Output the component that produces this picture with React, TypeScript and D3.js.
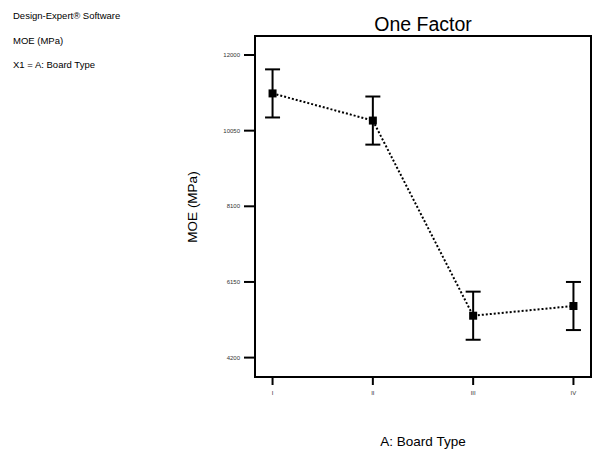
import React from 'react';
import * as d3 from 'd3';

const boardTypes = ['I', 'II', 'III', 'IV'];
const moeMean = [11010, 10310, 5280, 5530];
const moeLower = [10390, 9690, 4660, 4910];
const moeUpper = [11630, 10930, 5900, 6150];
const yTicks = [4200, 6150, 8100, 10050, 12000];
const infoLines = ['Design-Expert® Software', 'MOE (MPa)', 'X1 = A: Board Type'];

export default function App() {
  const W = 593;
  const H = 450;
  const left = 255;
  const right = 591;
  const top = 36;
  const bottom = 377;

  const x = d3.scalePoint().domain(boardTypes).range([left, right]).padding(0.175);
  const y = d3.scaleLinear().domain([3700, 12490]).range([bottom, top]);

  const pts = boardTypes.map((b, i) => ({ b, m: moeMean[i], lo: moeLower[i], hi: moeUpper[i] }));
  const line = d3
    .line<any>()
    .x((d) => x(d.b) as number)
    .y((d) => y(d.m));

  const font = 'Arial, "Liberation Sans", sans-serif';

  return (
    <svg width={W} height={H} style={{ position: 'absolute', left: 0, top: 0, background: '#fff' }} fontFamily={font}>
      {infoLines.map((t, i) => (
        <text key={t} x={13} y={19 + i * 24.5} fontSize={9.5} fill="#000">
          {t}
        </text>
      ))}
      <text x={(left + right) / 2} y={31} fontSize={19.5} textAnchor="middle">
        One Factor
      </text>
      {/* frame */}
      <rect x={left} y={top} width={right - left} height={bottom - top} fill="none" stroke="#000" strokeWidth={2} />
      {/* y axis */}
      {yTicks.map((t) => (
        <g key={t}>
          <line x1={left - 11} x2={left} y1={y(t)} y2={y(t)} stroke="#000" strokeWidth={2} />
          <text x={left - 15} y={y(t) + 2} fontSize={6} textAnchor="end" fill="#333">
            {t}
          </text>
        </g>
      ))}
      <text
        transform={`translate(${197},${207}) rotate(-90)`}
        fontSize={13.5}
        textAnchor="middle"
      >
        MOE (MPa)
      </text>
      {/* x axis */}
      {boardTypes.map((b) => (
        <g key={b}>
          <line x1={x(b)} x2={x(b)} y1={bottom} y2={bottom + 8} stroke="#000" strokeWidth={2} />
          <text x={x(b)} y={bottom + 18} fontSize={6} textAnchor="middle" fill="#333">
            {b}
          </text>
        </g>
      ))}
      <text x={(left + right) / 2} y={446} fontSize={13.5} textAnchor="middle">
        A: Board Type
      </text>
      {/* connecting line */}
      <path d={line(pts) || ''} fill="none" stroke="#000" strokeWidth={2} strokeDasharray="2,2" />
      {/* error bars */}
      {pts.map((p) => {
        const cx = x(p.b) as number;
        return (
          <g key={p.b} stroke="#000" strokeWidth={2}>
            <line x1={cx} x2={cx} y1={y(p.lo)} y2={y(p.hi)} />
            <line x1={cx - 7.5} x2={cx + 7.5} y1={y(p.lo)} y2={y(p.lo)} />
            <line x1={cx - 7.5} x2={cx + 7.5} y1={y(p.hi)} y2={y(p.hi)} />
            <rect x={cx - 4} y={y(p.m) - 4} width={8} height={8} fill="#000" stroke="none" />
          </g>
        );
      })}
    </svg>
  );
}
